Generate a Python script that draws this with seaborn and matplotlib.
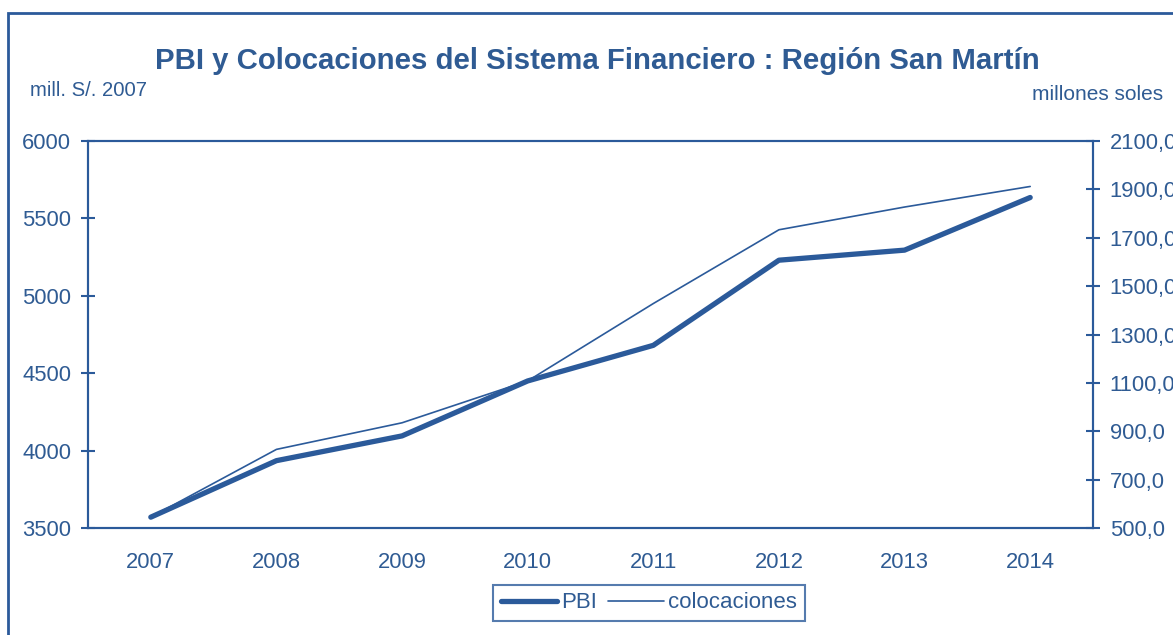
import numpy as np
import pandas as pd
import matplotlib
matplotlib.use("Agg")
import matplotlib.pyplot as plt
from matplotlib.patches import Rectangle
from matplotlib.ticker import FuncFormatter, FixedLocator
import seaborn as sns

years = ['2007', '2008', '2009', '2010', '2011', '2012', '2013', '2014']
pbi = [3570, 3935, 4095, 4450, 4680, 5230, 5295, 5635]
colocaciones = [545, 825, 935, 1108, 1428, 1733, 1827, 1912]

blue = '#2B5A9A'
text_blue = '#2F5B93'

sns.set_theme(style="white")
plt.rcParams['font.family'] = ['Liberation Sans', 'DejaVu Sans']

df = pd.DataFrame({'pos': np.arange(len(years)), 'PBI': pbi, 'colocaciones': colocaciones})

fig = plt.figure(figsize=(11.73, 6.35), dpi=100)
ax = fig.add_axes([88 / 1173, 1 - 528 / 635, (1093 - 88) / 1173, (528 - 141) / 635])
ax2 = ax.twinx()

sns.lineplot(data=df, x='pos', y='PBI', ax=ax, color=blue, linewidth=3.8, label='PBI', legend=False)
sns.lineplot(data=df, x='pos', y='colocaciones', ax=ax2, color=blue, linewidth=1.2, label='colocaciones', legend=False)

ax.set_xlim(-0.5, len(years) - 0.5)
ax.set_ylim(3500, 6000)
ax2.set_ylim(500, 2100)
ax.set_yticks(range(3500, 6001, 500))
ax2.set_yticks(range(500, 2101, 200))
ax2.yaxis.set_major_formatter(FuncFormatter(lambda v, p: f'{v:.1f}'.replace('.', ',')))

ax.xaxis.set_major_locator(FixedLocator(np.arange(-0.5, len(years), 1.0)))
ax.set_xticklabels([])
ax.set_xticks(np.arange(len(years)), minor=True)
ax.set_xticklabels(years, minor=True)
fs = 15.8
ax.tick_params(axis='x', which='minor', length=0, pad=17, labelsize=fs, labelcolor=text_blue)
ax.tick_params(axis='x', which='major', direction='inout', length=10, width=1.5, color=blue)
ax.tick_params(axis='y', direction='inout', length=10, width=1.5, color=blue, labelsize=fs, labelcolor=text_blue, pad=7)
ax2.tick_params(axis='y', direction='inout', length=10, width=1.5, color=blue, labelsize=fs, labelcolor=text_blue, pad=7)

ax.set_xlabel('')
ax.set_ylabel('')
ax2.set_ylabel('')
for a in (ax, ax2):
    for s in a.spines.values():
        s.set_color(blue)
        s.set_linewidth(1.5)

fig.text(0.509, 1 - 61 / 635, 'PBI y Colocaciones del Sistema Financiero : Región San Martín',
         ha='center', va='center', fontsize=21.2, fontweight='bold', color=text_blue)
fig.text(30 / 1173, 1 - 91 / 635, 'mill. S/. 2007', ha='left', va='center', fontsize=14.6, color=text_blue)
fig.text(1163 / 1173, 1 - 95 / 635, 'millones soles', ha='right', va='center', fontsize=15, color=text_blue)

h1, l1 = ax.get_legend_handles_labels()
h2, l2 = ax2.get_legend_handles_labels()
leg = fig.legend(h1 + h2, l1 + l2, loc='center', bbox_to_anchor=(649 / 1173, 1 - 603 / 635), ncol=2,
                 fontsize=16, frameon=True, fancybox=False, edgecolor=blue, handlelength=2.5,
                 handletextpad=0.2, columnspacing=0.5, borderpad=0.35, borderaxespad=0)
leg.get_frame().set_linewidth(1.5)
for t in leg.get_texts():
    t.set_color(text_blue)

fig.patches.append(Rectangle((8 / 1173, -0.1), 2, 1.1 - 13 / 635, transform=fig.transFigure,
                             fill=False, edgecolor=blue, linewidth=2))

fig.savefig('out.png', dpi=100)
